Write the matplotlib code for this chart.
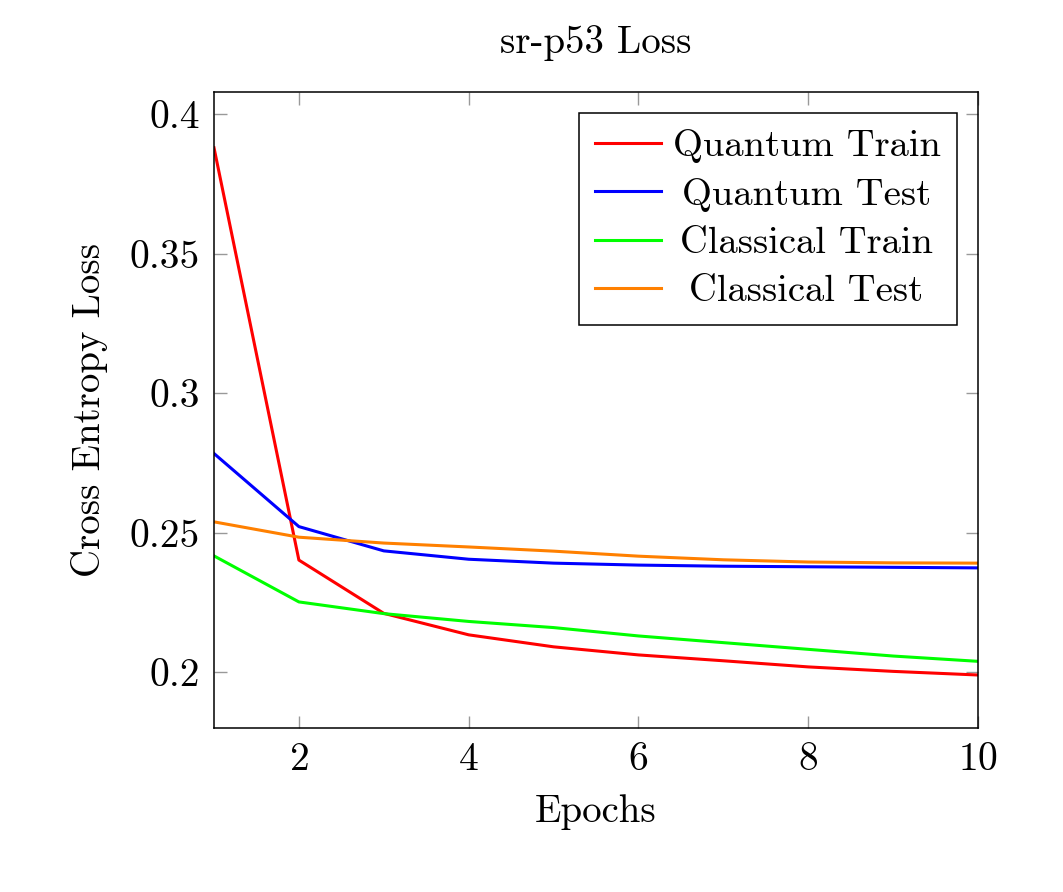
import matplotlib
matplotlib.use("Agg")
from matplotlib import pyplot as plt
from matplotlib.transforms import Affine2D

# data
epochs = [1, 2, 3, 4, 5, 6, 7, 8, 9, 10]
quantum_train = [0.388, 0.2402, 0.2211, 0.2134, 0.2091, 0.2062, 0.2041, 0.2019, 0.2003, 0.1990]
quantum_test = [0.2784, 0.2522, 0.2435, 0.2405, 0.2391, 0.2384, 0.2380, 0.2378, 0.2376, 0.2374]
classical_train = [0.2417, 0.2252, 0.2210, 0.2182, 0.2160, 0.2130, 0.2106, 0.2082, 0.2058, 0.2039]
classical_test = [0.2539, 0.2484, 0.2463, 0.2449, 0.2434, 0.2416, 0.2403, 0.2395, 0.2392, 0.2391]

plt.rcParams['font.family'] = ['cmr10', 'DejaVu Serif']
plt.rcParams['axes.formatter.use_mathtext'] = True
plt.rcParams['mathtext.fontset'] = 'cm'

fig = plt.figure(figsize=(10.63, 8.92), dpi=100)
ax = fig.add_axes([214 / 1063, 1 - 728 / 892, (978 - 214) / 1063, (728 - 92) / 892])

lw = 2.2
ax.plot(epochs, quantum_train, color='#ff0000', lw=lw, label='Quantum Train')
ax.plot(epochs, quantum_test, color='#0000ff', lw=lw, label='Quantum Test')
ax.plot(epochs, classical_train, color='#00ff00', lw=lw, label='Classical Train')
ax.plot(epochs, classical_test, color='#ff8000', lw=lw, label='Classical Test')

ax.set_xlim(1, 10)
ax.set_ylim(0.18, 0.408)
ax.set_xticks([2, 4, 6, 8, 10])
ax.set_yticks([0.2, 0.25, 0.3, 0.35, 0.4])
ax.set_yticklabels(['0.2', '0.25', '0.3', '0.35', '0.4'])
ax.tick_params(direction='in', length=9, width=1, color='#999999',
               top=True, right=True, labelsize=28.5, pad=10)
for s in ax.spines.values():
    s.set_linewidth(1.1)

ax.set_title('sr-p53 Loss', fontsize=28, pad=28)
ax.set_xlabel('Epochs', fontsize=28, labelpad=12)
ax.set_ylabel('Cross Entropy Loss', fontsize=28, labelpad=16)

leg = ax.legend(loc='upper right', fontsize=27.8, frameon=True, fancybox=False,
                edgecolor='black', framealpha=1, handlelength=1.7,
                borderaxespad=0.55, labelspacing=0.37, handletextpad=0.3,
                borderpad=0.42)
leg.get_frame().set_linewidth(1.1)

# pgfplots centres legend text in its cell
fig.canvas.draw()
r = fig.canvas.get_renderer()
widths = [t.get_window_extent(r).width for t in leg.get_texts()]
for t, w in zip(leg.get_texts(), widths):
    t.set_transform(t.get_transform() + Affine2D().translate((max(widths) - w) / 2, 0))

fig.savefig('out.png', dpi=100)
